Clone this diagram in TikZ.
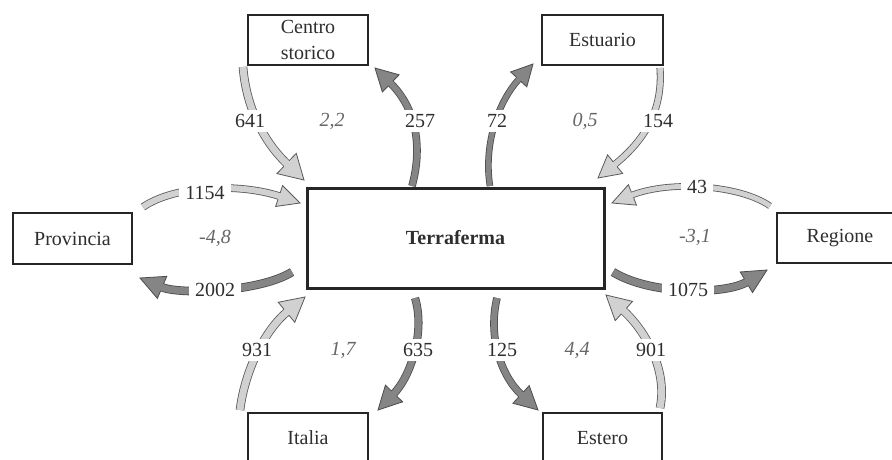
\documentclass[tikz,border=0pt]{standalone}
\usepackage{fontspec}
\setmainfont{Liberation Serif}
\usetikzlibrary{calc}
\definecolor{ltfillcol}{gray}{0.82}
\definecolor{ltedgecol}{gray}{0.35}
\definecolor{dkfillcol}{gray}{0.52}
\definecolor{dkedgecol}{gray}{0.30}
\definecolor{txtcol}{gray}{0.18}
\definecolor{itcol}{gray}{0.40}
\tikzset{
  boxnode/.style={draw=black!85, line width=2.6pt, rectangle, align=center, text=txtcol,
    font=\fontsize{20}{26}\selectfont, inner sep=0pt},
  numlab/.style={fill=white, inner xsep=6pt, inner ysep=4pt, text=txtcol, font=\fontsize{20}{23}\selectfont},
  ratelab/.style={inner sep=1pt, text=itcol, font=\fontsize{20}{23}\selectfont\itshape},
  ltshaft/.style={draw=ltedgecol, double=ltfillcol, line width=0.8pt},
  ltfill/.style={fill=ltfillcol},
  ltedge/.style={draw=ltedgecol, line width=0.8pt, line join=miter},
  dkshaft/.style={draw=dkedgecol, double=dkfillcol, line width=0.8pt},
  dkfill/.style={fill=dkfillcol},
  dkedge/.style={draw=dkedgecol, line width=0.8pt, line join=miter},
}
% #1 type, #2 shaft width, #3 head width, #4 head length, #5 start, #6 c1, #7 c2, #8 end
\newcommand\flowarrow[8]{%
  \draw[#1shaft, double distance=#2, shorten >={#4-1pt}] #5 .. controls #6 and #7 .. #8;
  \coordinate (fE) at #8;
  \coordinate (fC) at #7;
  \coordinate (fB) at ($(fE)!#4!(fC)$);
  \fill[#1fill] (fE) -- ($(fB)!#3/2!90:(fE)$) -- ($(fB)!#3/2!-90:(fE)$) -- cycle;
  \draw[#1edge] ($(fB)!#2/2+0.4pt!90:(fE)$) -- ($(fB)!#3/2!90:(fE)$) -- (fE)
     -- ($(fB)!#3/2!-90:(fE)$) -- ($(fB)!#2/2+0.4pt!-90:(fE)$);
}
\begin{document}
\begin{tikzpicture}[x=1pt,y=-1pt]
\useasboundingbox (0,0) rectangle (892,459);
\clip (0,0) rectangle (892,459);
\fill[white] (0,0) rectangle (892,459);

% boxes
\node[boxnode, minimum width=120pt, minimum height=50pt] (cs) at (308,40) {Centro\\storico};
\node[boxnode, minimum width=121pt, minimum height=50pt] (es) at (602.5,40) {Estuario};
\node[boxnode, minimum width=119pt, minimum height=51pt] (pr) at (72.5,238.5) {Provincia};
\node[boxnode, minimum width=126pt, minimum height=50pt] (re) at (840,238) {Regione};
\node[boxnode, line width=3pt, minimum width=297pt, minimum height=100pt] (tf) at (455.5,238) {\bfseries Terraferma};
\node[boxnode, minimum width=120pt, minimum height=50pt] (it) at (308,438) {Italia};
\node[boxnode, minimum width=119pt, minimum height=50pt] (et) at (602.5,438) {Estero};

% arrow end points
\coordinate (s641) at (243,67);   \coordinate (e641) at (304,180);
\coordinate (s257) at (412,186);  \coordinate (e257) at (375,68);
\coordinate (s72) at (490,186);   \coordinate (e72) at (533,64);
\coordinate (s154) at (660,68);   \coordinate (e154) at (598,178);
\coordinate (s1154) at (143,207); \coordinate (e1154) at (300,203);
\coordinate (s2002) at (292,272); \coordinate (e2002) at (140,278);
\coordinate (s43) at (770,206);   \coordinate (e43) at (612,203);
\coordinate (s1075) at (613,272); \coordinate (e1075) at (767,270);
\coordinate (s931) at (240,410);  \coordinate (e931) at (305,297);
\coordinate (s635) at (415,298);  \coordinate (e635) at (378,410);
\coordinate (s125) at (497,298);  \coordinate (e125) at (538,410);
\coordinate (s901) at (660,408);  \coordinate (e901) at (606,295);

% flows
\flowarrow{lt}{7pt}{28pt}{24pt}{(s641)}{(246,105)}{(262,140)}{(e641)}
\flowarrow{dk}{6pt}{24pt}{22pt}{(s257)}{(422,150)}{(418,110)}{(e257)}
\flowarrow{dk}{5pt}{22pt}{21pt}{(s72)}{(484,150)}{(495,105)}{(e72)}
\flowarrow{lt}{5.5pt}{24pt}{22pt}{(s154)}{(663,110)}{(645,140)}{(e154)}
\flowarrow{lt}{6pt}{22pt}{22pt}{(s1154)}{(175,185)}{(240,183)}{(e1154)}
\flowarrow{dk}{7pt}{24pt}{24pt}{(s2002)}{(260,292)}{(180,295)}{(e2002)}
\flowarrow{lt}{5pt}{22pt}{22pt}{(s43)}{(740,185)}{(670,180)}{(e43)}
\flowarrow{dk}{7pt}{24pt}{24pt}{(s1075)}{(650,295)}{(725,295)}{(e1075)}
\flowarrow{lt}{7pt}{26pt}{24pt}{(s931)}{(245,370)}{(265,330)}{(e931)}
\flowarrow{dk}{6.5pt}{24pt}{23pt}{(s635)}{(425,330)}{(412,375)}{(e635)}
\flowarrow{dk}{6pt}{24pt}{23pt}{(s125)}{(488,335)}{(500,375)}{(e125)}
\flowarrow{lt}{7pt}{26pt}{24pt}{(s901)}{(668,370)}{(645,330)}{(e901)}

% labels
\node[numlab] (l641) at (250,121) {641};
\node[ratelab] (r1) at (332,121) {2,2};
\node[numlab] (l257) at (420,121) {257};
\node[numlab] (l72) at (497,121) {72};
\node[ratelab] (r2) at (585,121) {0,5};
\node[numlab] (l154) at (658,121) {154};
\node[numlab] (l1154) at (205,193) {1154};
\node[ratelab] (r3) at (215,238) {-4,8};
\node[numlab] (l2002) at (215,290) {2002};
\node[numlab] (l43) at (697,187) {43};
\node[ratelab] (r4) at (695,237) {-3,1};
\node[numlab] (l1075) at (688,290) {1075};
\node[numlab] (l931) at (257,350) {931};
\node[ratelab] (r5) at (343,350) {1,7};
\node[numlab] (l635) at (418,350) {635};
\node[numlab] (l125) at (502,350) {125};
\node[ratelab] (r6) at (577,350) {4,4};
\node[numlab] (l901) at (651,350) {901};
\end{tikzpicture}
\end{document}
